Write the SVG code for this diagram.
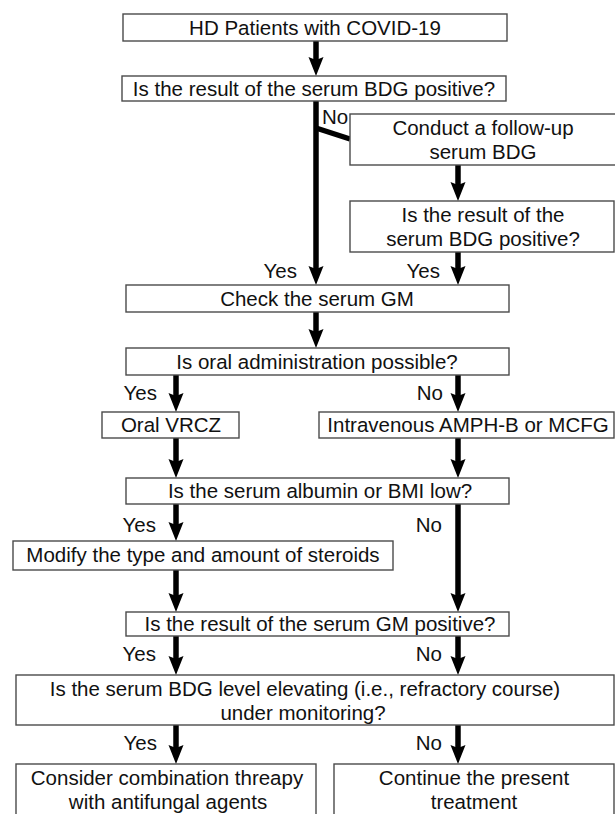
<svg xmlns="http://www.w3.org/2000/svg" width="615" height="814" viewBox="0 0 615 814">
<style>
.box{fill:#fff;stroke:#4a4a4a;stroke-width:1.4}
.t{font-family:"Liberation Sans",Arial,sans-serif;font-size:20.5px;fill:#111;text-anchor:middle}
.lbl{font-family:"Liberation Sans",Arial,sans-serif;font-size:20.5px;fill:#111;text-anchor:end}
.c{stroke:#000;stroke-width:5.5;fill:none}
</style>
<defs>
<marker id="ah" markerUnits="userSpaceOnUse" viewBox="0 -8 20 16" markerWidth="20" markerHeight="16" refX="7" refY="0" orient="auto">
<path d="M0,-7.5 L19,0 L0,7.5 L3,0 Z" fill="#000"/>
</marker>
</defs>
<rect width="615" height="814" fill="#fff"/>
<g id="connectors">
<line class="c" x1="316" y1="41" x2="316" y2="64" marker-end="url(#ah)"/>
<line class="c" x1="316" y1="101" x2="316" y2="273" marker-end="url(#ah)"/>
<line class="c" x1="316" y1="128" x2="350" y2="139"/>
<line class="c" x1="458" y1="165" x2="458" y2="189" marker-end="url(#ah)"/>
<line class="c" x1="458" y1="252" x2="458" y2="273" marker-end="url(#ah)"/>
<line class="c" x1="316" y1="312" x2="316" y2="336" marker-end="url(#ah)"/>
<line class="c" x1="176" y1="375" x2="176" y2="400" marker-end="url(#ah)"/>
<line class="c" x1="458" y1="375" x2="458" y2="400" marker-end="url(#ah)"/>
<line class="c" x1="176" y1="438" x2="176" y2="466" marker-end="url(#ah)"/>
<line class="c" x1="458" y1="438" x2="458" y2="466" marker-end="url(#ah)"/>
<line class="c" x1="176" y1="504" x2="176" y2="529" marker-end="url(#ah)"/>
<line class="c" x1="458" y1="504" x2="458" y2="600" marker-end="url(#ah)"/>
<line class="c" x1="176" y1="570" x2="176" y2="600" marker-end="url(#ah)"/>
<line class="c" x1="176" y1="636" x2="176" y2="663" marker-end="url(#ah)"/>
<line class="c" x1="458" y1="636" x2="458" y2="663" marker-end="url(#ah)"/>
<line class="c" x1="176" y1="725" x2="176" y2="752" marker-end="url(#ah)"/>
<line class="c" x1="458" y1="725" x2="458" y2="752" marker-end="url(#ah)"/>
<text class="lbl" x="346" y="124" style="text-anchor:start" transform="translate(-24,0)">No</text>
<text class="lbl" x="297" y="278">Yes</text>
<text class="lbl" x="440" y="278">Yes</text>
<text class="lbl" x="157" y="400">Yes</text>
<text class="lbl" x="443" y="400">No</text>
<text class="lbl" x="156" y="532">Yes</text>
<text class="lbl" x="442" y="532">No</text>
<text class="lbl" x="156" y="661">Yes</text>
<text class="lbl" x="442" y="661">No</text>
<text class="lbl" x="157" y="750">Yes</text>
<text class="lbl" x="442" y="750">No</text>
</g>
<g id="n1"><rect class="box" x="123" y="14" width="384" height="27"/><text class="t" x="315" y="35">HD Patients with COVID-19</text></g>
<g id="n2"><rect class="box" x="122" y="76" width="384" height="25"/><text class="t" x="314" y="96">Is the result of the serum BDG positive?</text></g>
<g id="n3"><rect class="box" x="350" y="114" width="270" height="51"/><text class="t" x="483" y="135">Conduct a follow-up</text><text class="t" x="483" y="159">serum BDG</text></g>
<g id="n4"><rect class="box" x="350" y="201" width="264" height="51"/><text class="t" x="483" y="222">Is the result of the</text><text class="t" x="483" y="246">serum BDG positive?</text></g>
<g id="n5"><rect class="box" x="126" y="285" width="383" height="27"/><text class="t" x="317" y="306">Check the serum GM</text></g>
<g id="n6"><rect class="box" x="126" y="348" width="383" height="27"/><text class="t" x="317" y="369">Is oral administration possible?</text></g>
<g id="n7"><rect class="box" x="102" y="412" width="137" height="26"/><text class="t" x="171" y="432">Oral VRCZ</text></g>
<g id="n8"><rect class="box" x="319" y="412" width="295" height="26"/><text class="t" x="468" y="432">Intravenous AMPH-B or MCFG</text></g>
<g id="n9"><rect class="box" x="126" y="478" width="383" height="26"/><text class="t" x="320" y="498">Is the serum albumin or BMI low?</text></g>
<g id="n10"><rect class="box" x="13" y="541" width="380" height="29"/><text class="t" x="203" y="562">Modify the type and amount of steroids</text></g>
<g id="n11"><rect class="box" x="126" y="612" width="383" height="24"/><text class="t" x="320" y="631">Is the result of the serum GM positive?</text></g>
<g id="n12"><rect class="box" x="16" y="675" width="598" height="50"/><text class="t" x="305" y="696">Is the serum BDG level elevating (i.e., refractory course)</text><text class="t" x="303" y="720">under monitoring?</text></g>
<g id="n13"><rect class="box" x="16" y="764" width="300" height="60"/><text class="t" x="167" y="785">Consider combination threapy</text><text class="t" x="168" y="809">with antifungal agents</text></g>
<g id="n14"><rect class="box" x="334" y="764" width="280" height="60"/><text class="t" x="474" y="785">Continue the present</text><text class="t" x="474" y="809">treatment</text></g>
</svg>
